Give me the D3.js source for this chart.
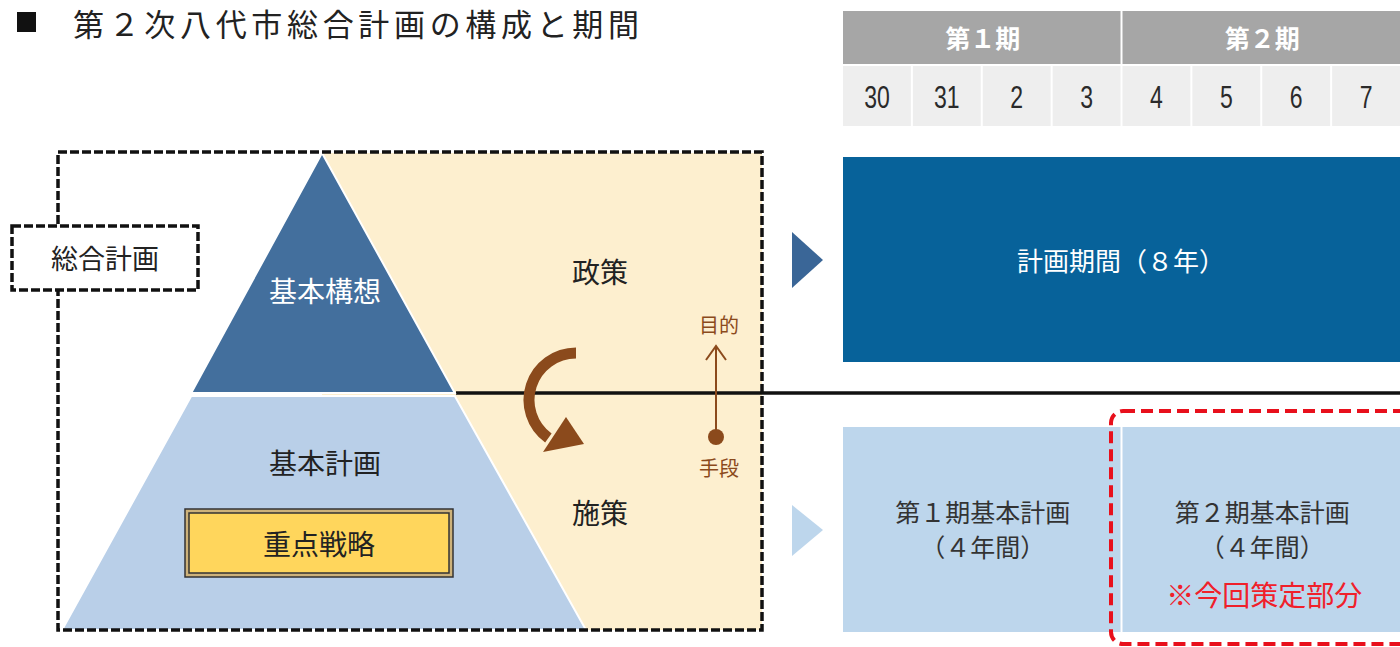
<!DOCTYPE html>
<html>
<head>
<meta charset="utf-8">
<script src="https://cdn.jsdelivr.net/npm/d3@7"></script>
<style>
  body { margin: 0; background: #fff; }
  text { font-family: "Noto Sans CJK JP", sans-serif; }
</style>
</head>
<body>
<div id="chart"></div>
<script>
// data
var title = "第２次八代市総合計画の構成と期間";
var periods = ["第１期", "第２期"];
var years = ["30", "31", "2", "3", "4", "5", "6", "7"];
var planPeriod = "計画期間（８年）";
var basicPlans = [
  { period: "第１期", lines: ["第１期基本計画", "（４年間）"] },
  { period: "第２期", lines: ["第２期基本計画", "（４年間）"], note: "※今回策定部分" }
];
var layers = ["基本構想", "基本計画"];
var policies = ["政策", "施策"];

var width = 1400, height = 647;
var svg = d3.select("#chart").append("svg")
  .attr("width", width).attr("height", height);

// title
svg.append("rect").attr("x", 17).attr("y", 12).attr("width", 19).attr("height", 20).attr("fill", "#111");
svg.append("text").attr("x", 73).attr("y", 36)
  .style("font-size", "31px").attr("fill", "#222")
  .attr("textLength", 566).attr("lengthAdjust", "spacing")
  .text(title);

// timeline scales
var x = d3.scaleBand().domain(years).range([843, 1402]).paddingInner(0);
var xp = d3.scaleBand().domain(periods).range([843, 1402]);

// period header
svg.selectAll(".ph").data(periods).enter().append("rect")
  .attr("x", function (d) { return xp(d); })
  .attr("y", 11).attr("width", xp.bandwidth() - 2).attr("height", 53)
  .attr("fill", "#a6a6a6");
svg.selectAll(".pht").data(periods).enter().append("text")
  .attr("x", function (d) { return xp(d) + xp.bandwidth() / 2; })
  .attr("y", 48).attr("text-anchor", "middle")
  .style("font-size", "25px").style("font-weight", "bold").attr("fill", "#fff")
  .text(function (d) { return d; });

// year row
svg.selectAll(".yr").data(years).enter().append("rect")
  .attr("x", function (d) { return x(d); })
  .attr("y", 66).attr("width", x.bandwidth() - 2).attr("height", 60)
  .attr("fill", "#eeeeee");
svg.selectAll(".yt").data(years).enter().append("text")
  .attr("transform", function (d) { return "translate(" + (x(d) + x.bandwidth() / 2 - 1) + ",108) scale(0.72,1)"; })
  .attr("text-anchor", "middle")
  .style("font-family", "'Liberation Sans', sans-serif")
  .style("font-size", "32px").attr("fill", "#2a2a2a")
  .text(function (d) { return d; });

// plan period box
svg.append("rect").attr("x", 843).attr("y", 157).attr("width", 560).attr("height", 205).attr("fill", "#07629a");
svg.append("text").attr("x", 1121).attr("y", 271).attr("text-anchor", "middle")
  .style("font-size", "26px").attr("fill", "#fff").text(planPeriod);
svg.append("path").attr("d", "M792,232 L823,260 L792,288 Z").attr("fill", "#3a6697");

// basic plan boxes
svg.selectAll(".bp").data(basicPlans).enter().append("rect")
  .attr("x", function (d) { return xp(d.period); })
  .attr("y", 427).attr("width", xp.bandwidth() - 2).attr("height", 205)
  .attr("fill", "#bdd6ec");
basicPlans.forEach(function (d) {
  var cx = xp(d.period) + xp.bandwidth() / 2;
  d.lines.forEach(function (l, i) {
    svg.append("text").attr("x", cx).attr("y", 522 + i * 35).attr("text-anchor", "middle")
      .style("font-size", "25px").attr("fill", "#333").text(l);
  });
  if (d.note) {
    svg.append("text").attr("x", cx + 2).attr("y", 606).attr("text-anchor", "middle")
      .style("font-size", "28px").attr("fill", "#f0202a").text(d.note);
  }
});
svg.append("path").attr("d", "M792,505 L823,530 L792,556 Z").attr("fill", "#bdd6ec");

// red dashed highlight
svg.append("rect").attr("x", 1111).attr("y", 411).attr("width", 310).attr("height", 233).attr("rx", 12)
  .attr("fill", "none").attr("stroke", "#e8101c").attr("stroke-width", 4).attr("stroke-dasharray", "12,6");

// left structure: beige area
svg.append("rect").attr("x", 322).attr("y", 153).attr("width", 440).attr("height", 477).attr("fill", "#fdefcf");

// divider line
svg.append("line").attr("x1", 456).attr("x2", 1400).attr("y1", 393).attr("y2", 393)
  .attr("stroke", "#111").attr("stroke-width", 3.5);

// pyramid
var py = d3.scaleLinear().domain([0, 1]).range([153, 630]);
var peak = 322, baseL = 62, baseR = 586;
function edgeL(t) { return peak + (baseL - peak) * t; }
function edgeR(t) { return peak + (baseR - peak) * t; }
var split = (393 - 153) / (630 - 153);
svg.append("path")
  .attr("d", "M" + peak + "," + py(0) + " L" + edgeR(split) + "," + py(split) + " L" + edgeL(split) + "," + py(split) + " Z")
  .attr("fill", "#436f9d").attr("stroke", "#fff").attr("stroke-width", 2);
svg.append("path")
  .attr("d", "M" + edgeL(split) + "," + (py(split) + 3) + " L" + edgeR(split) + "," + (py(split) + 3) +
    " L" + baseR + "," + py(1) + " L" + baseL + "," + py(1) + " Z")
  .attr("fill", "#b9cfe8").attr("stroke", "#fff").attr("stroke-width", 2);

svg.append("text").attr("x", 325).attr("y", 302).attr("text-anchor", "middle")
  .style("font-size", "28px").attr("fill", "#fff").text(layers[0]);
svg.append("text").attr("x", 325).attr("y", 474).attr("text-anchor", "middle")
  .style("font-size", "28px").attr("fill", "#222").text(layers[1]);

// key strategy box
svg.append("rect").attr("x", 185).attr("y", 509).attr("width", 268).attr("height", 68)
  .attr("fill", "#cdb27a").attr("stroke", "#333").attr("stroke-width", 1.5);
svg.append("rect").attr("x", 189).attr("y", 513).attr("width", 260).attr("height", 60)
  .attr("fill", "#ffd65c").attr("stroke", "#333").attr("stroke-width", 1.5);
svg.append("text").attr("x", 319).attr("y", 555).attr("text-anchor", "middle")
  .style("font-size", "28px").attr("fill", "#222").text("重点戦略");

// policies
svg.append("text").attr("x", 600).attr("y", 283).attr("text-anchor", "middle")
  .style("font-size", "28px").attr("fill", "#222").text(policies[0]);
svg.append("text").attr("x", 600).attr("y", 524).attr("text-anchor", "middle")
  .style("font-size", "28px").attr("fill", "#222").text(policies[1]);

// curved arrow
var brown = "#8b4a1c";
var arc = d3.path();
arc.arc(576, 400, 47, -Math.PI / 2, Math.PI * 0.7, true);
svg.append("path").attr("d", arc.toString())
  .attr("fill", "none").attr("stroke", brown).attr("stroke-width", 11);
svg.append("path").attr("d", "M543,452 L566,417 L584,444 Z").attr("fill", brown);

// purpose / means arrow
svg.append("line").attr("x1", 716).attr("x2", 716).attr("y1", 437).attr("y2", 347)
  .attr("stroke", brown).attr("stroke-width", 2);
svg.append("path").attr("d", "M706,360 L716,346 L726,360")
  .attr("fill", "none").attr("stroke", brown).attr("stroke-width", 2);
svg.append("circle").attr("cx", 716).attr("cy", 437).attr("r", 8).attr("fill", brown);
svg.append("text").attr("x", 719).attr("y", 333).attr("text-anchor", "middle")
  .style("font-size", "20px").attr("fill", brown).text("目的");
svg.append("text").attr("x", 719).attr("y", 476).attr("text-anchor", "middle")
  .style("font-size", "20px").attr("fill", brown).text("手段");

// outer dashed frame
svg.append("rect").attr("x", 58).attr("y", 152).attr("width", 704).attr("height", 478)
  .attr("fill", "none").attr("stroke", "#111").attr("stroke-width", 3.5).attr("stroke-dasharray", "9,3");

// 総合計画 label
svg.append("rect").attr("x", 12).attr("y", 226).attr("width", 186).attr("height", 64)
  .attr("fill", "#fff").attr("stroke", "#111").attr("stroke-width", 3.5).attr("stroke-dasharray", "9,3");
svg.append("text").attr("x", 105).attr("y", 269).attr("text-anchor", "middle")
  .style("font-size", "27px").attr("fill", "#222").text("総合計画");
</script>
</body>
</html>
